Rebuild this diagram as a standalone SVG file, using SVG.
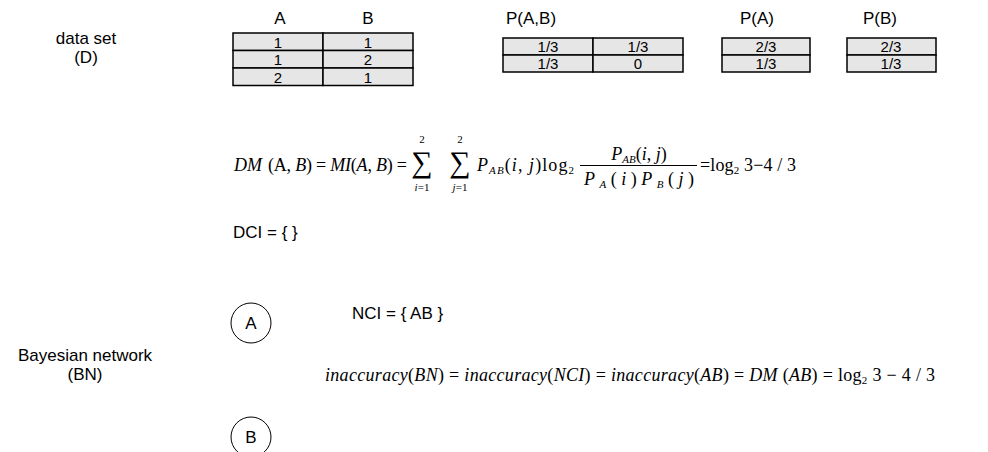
<svg xmlns="http://www.w3.org/2000/svg" width="988" height="452" viewBox="0 0 988 452">
<style>
.lbl{font-family:"Liberation Sans",Arial,sans-serif;font-size:17px;fill:#000}
.cell{fill:#e6e6e6;stroke:#000;stroke-width:1.5}
.ct{font-family:"Liberation Sans",Arial,sans-serif;font-size:15px;fill:#000;text-anchor:middle}
.m{font-family:"Liberation Serif","Times New Roman",serif;font-size:18px;fill:#000}
.mi{font-family:"Liberation Serif","Times New Roman",serif;font-size:18px;font-style:italic;fill:#000}
.sub{font-size:11px}
.lim{font-family:"Liberation Serif","Times New Roman",serif;font-size:11px;fill:#000;text-anchor:middle}
.sig{font-family:"Liberation Serif","Times New Roman",serif;font-size:30px;fill:#000;text-anchor:middle}
.node{fill:#fff;stroke:#000;stroke-width:1}
</style>
<rect width="988" height="452" fill="#fff"/>

<g id="label-dataset">
<text class="lbl" x="86" y="44" text-anchor="middle">data set</text>
<text class="lbl" x="86" y="63" text-anchor="middle">(D)</text>
</g>

<g id="table-D">
<text class="lbl" x="280" y="24" text-anchor="middle">A</text>
<text class="lbl" x="368" y="24" text-anchor="middle">B</text>
<rect class="cell" x="233" y="33" width="90" height="17.5"/>
<rect class="cell" x="323" y="33" width="90" height="17.5"/>
<rect class="cell" x="233" y="50.5" width="90" height="17.5"/>
<rect class="cell" x="323" y="50.5" width="90" height="17.5"/>
<rect class="cell" x="233" y="68" width="90" height="17.5"/>
<rect class="cell" x="323" y="68" width="90" height="17.5"/>
<text class="ct" x="278" y="47.5">1</text><text class="ct" x="368" y="47.5">1</text>
<text class="ct" x="278" y="65">1</text><text class="ct" x="368" y="65">2</text>
<text class="ct" x="278" y="82.5">2</text><text class="ct" x="368" y="82.5">1</text>
</g>

<g id="table-PAB">
<text class="lbl" x="506" y="24">P(A,B)</text>
<rect class="cell" x="503" y="38" width="90" height="17"/>
<rect class="cell" x="593" y="38" width="90" height="17"/>
<rect class="cell" x="503" y="55" width="90" height="17"/>
<rect class="cell" x="593" y="55" width="90" height="17"/>
<text class="ct" x="548" y="52">1/3</text><text class="ct" x="638" y="52">1/3</text>
<text class="ct" x="548" y="69">1/3</text><text class="ct" x="638" y="69">0</text>
</g>

<g id="table-PA">
<text class="lbl" x="757" y="24" text-anchor="middle">P(A)</text>
<rect class="cell" x="722" y="38" width="88" height="17"/>
<rect class="cell" x="722" y="55" width="88" height="17"/>
<text class="ct" x="766" y="52">2/3</text>
<text class="ct" x="766" y="69">1/3</text>
</g>

<g id="table-PB">
<text class="lbl" x="880" y="24" text-anchor="middle">P(B)</text>
<rect class="cell" x="847" y="38" width="89" height="17"/>
<rect class="cell" x="847" y="55" width="89" height="17"/>
<text class="ct" x="891" y="52">2/3</text>
<text class="ct" x="891" y="69">1/3</text>
</g>

<g id="formula-DM">
<text class="mi" x="234" y="171">DM</text>
<text class="m" x="268" y="171" textLength="139" lengthAdjust="spacing">(A, <tspan font-style="italic">B</tspan>) = <tspan font-style="italic">MI</tspan>(<tspan font-style="italic">A</tspan>, <tspan font-style="italic">B</tspan>) =</text>
<text class="sig" x="422" y="172">∑</text>
<text class="lim" x="422" y="143">2</text>
<text class="lim" x="422" y="191"><tspan font-style="italic">i</tspan>=1</text>
<text class="sig" x="460" y="172">∑</text>
<text class="lim" x="460" y="143">2</text>
<text class="lim" x="460" y="191"><tspan font-style="italic">j</tspan>=1</text>
<text class="mi" x="477" y="171" textLength="97" lengthAdjust="spacing">P<tspan class="sub" dy="3">AB</tspan><tspan dy="-3" font-style="normal">(</tspan>i<tspan font-style="normal">, </tspan>j<tspan font-style="normal">)log</tspan><tspan class="sub" dy="3" font-style="normal">2</tspan></text>
<text class="mi" x="639" y="160" text-anchor="middle">P<tspan class="sub" dy="3">AB</tspan><tspan dy="-3" font-style="normal">(</tspan>i<tspan font-style="normal">, </tspan>j<tspan font-style="normal">)</tspan></text>
<line x1="580" y1="165.5" x2="697" y2="165.5" stroke="#000" stroke-width="1"/>
<text class="mi" x="584" y="185" textLength="110" lengthAdjust="spacing">P<tspan class="sub" dy="3">A</tspan><tspan dy="-3" font-style="normal">(</tspan>i<tspan font-style="normal">)</tspan>P<tspan class="sub" dy="3">B</tspan><tspan dy="-3" font-style="normal">(</tspan>j<tspan font-style="normal">)</tspan></text>
<text class="m" x="700" y="171" textLength="96" lengthAdjust="spacing">=log<tspan class="sub" dy="3">2</tspan><tspan dy="-3"> 3−4 / 3</tspan></text>
</g>

<g id="label-DCI">
<text class="lbl" x="233" y="238">DCI = { }</text>
</g>

<g id="label-BN">
<text class="lbl" x="85" y="361" text-anchor="middle">Bayesian network</text>
<text class="lbl" x="85" y="380" text-anchor="middle">(BN)</text>
</g>

<g id="node-A">
<circle class="node" cx="251" cy="323" r="20"/>
<text class="lbl" x="251" y="329" text-anchor="middle">A</text>
</g>
<g id="node-B">
<circle class="node" cx="251" cy="437" r="20"/>
<text class="lbl" x="251" y="443" text-anchor="middle">B</text>
</g>
<g id="connectors"></g>

<g id="label-NCI">
<text class="lbl" x="352" y="319">NCI = { AB }</text>
</g>

<g id="formula-inaccuracy">
<text class="mi" x="325" y="381" textLength="610" lengthAdjust="spacing">inaccuracy<tspan font-style="normal">(</tspan>BN<tspan font-style="normal">) = </tspan>inaccuracy<tspan font-style="normal">(</tspan>NCI<tspan font-style="normal">) = </tspan>inaccuracy<tspan font-style="normal">(</tspan>AB<tspan font-style="normal">) = </tspan>DM<tspan font-style="normal"> (</tspan>AB<tspan font-style="normal">) = log</tspan><tspan class="sub" font-style="normal" dy="3">2</tspan><tspan font-style="normal" dy="-3"> 3 − 4 / 3</tspan></text>
</g>
</svg>
